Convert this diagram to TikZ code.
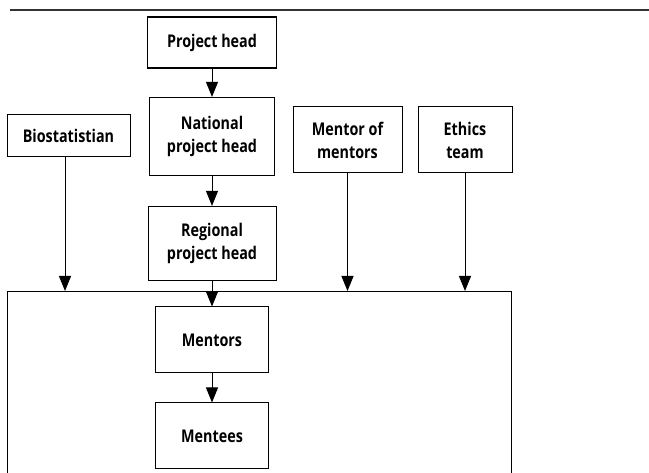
\documentclass[tikz,border=0pt]{standalone}
\usepackage{fontspec}
\setmainfont{Open Sans}[FakeStretch=0.82]
\usetikzlibrary{arrows.meta, positioning}

\begin{document}
\begin{tikzpicture}[
    x=1pt, y=-1pt,
    box/.style={rectangle, draw=black, line width=1pt, align=center, inner sep=0pt, font=\fontsize{17.5}{23}\selectfont\bfseries},
    headbox/.style={box, line width=1.8pt},
    arrow/.style={-{Triangle[length=15pt, width=12pt]}, line width=1pt}
]
\clip (0,0) rectangle (649,473);

% top rule
\coordinate (rulel) at (10,10);
\coordinate (ruler) at (649,10);
\draw[line width=1.4pt, black!80] (rulel) -- (ruler);

% project chain
\node[headbox, minimum width=129pt, minimum height=51pt] at (212,42.5) (proj) {Project head};
\node[box, minimum width=125pt, minimum height=78pt, below=28pt of proj] (national) {National\\project head};
\node[box, minimum width=128pt, minimum height=74pt, below=30pt of national] (regional) {Regional\\project head};

% supporting roles
\node[box, minimum width=123pt, minimum height=42pt] at (68.5,136) (bio) {Biostatistian};
\node[box, minimum width=109pt, minimum height=66pt] at (347.5,140) (mom) {Mentor of\\mentors};
\node[box, minimum width=94pt, minimum height=66pt] at (465,140) (ethics) {Ethics\\team};

% field level
\node[box, anchor=north west, minimum width=504pt, minimum height=220pt] at (7,291) (field) {};
\node[box, minimum width=113pt, minimum height=66pt] at (212,340) (mentors) {Mentors};
\node[box, minimum width=113pt, minimum height=66pt, below=29pt of mentors] (mentees) {Mentees};

% Arrows
\draw[arrow] (proj) -- (national);
\draw[arrow] (national) -- (regional);
\draw[arrow] (regional) -- (mentors);
\draw[arrow] (mentors) -- (mentees);
\draw[arrow] (bio.south -| 65,0) -- (65,0 |- field.north);
\draw[arrow] (mom) -- (mom |- field.north);
\draw[arrow] (ethics) -- (ethics |- field.north);

\end{tikzpicture}
\end{document}
